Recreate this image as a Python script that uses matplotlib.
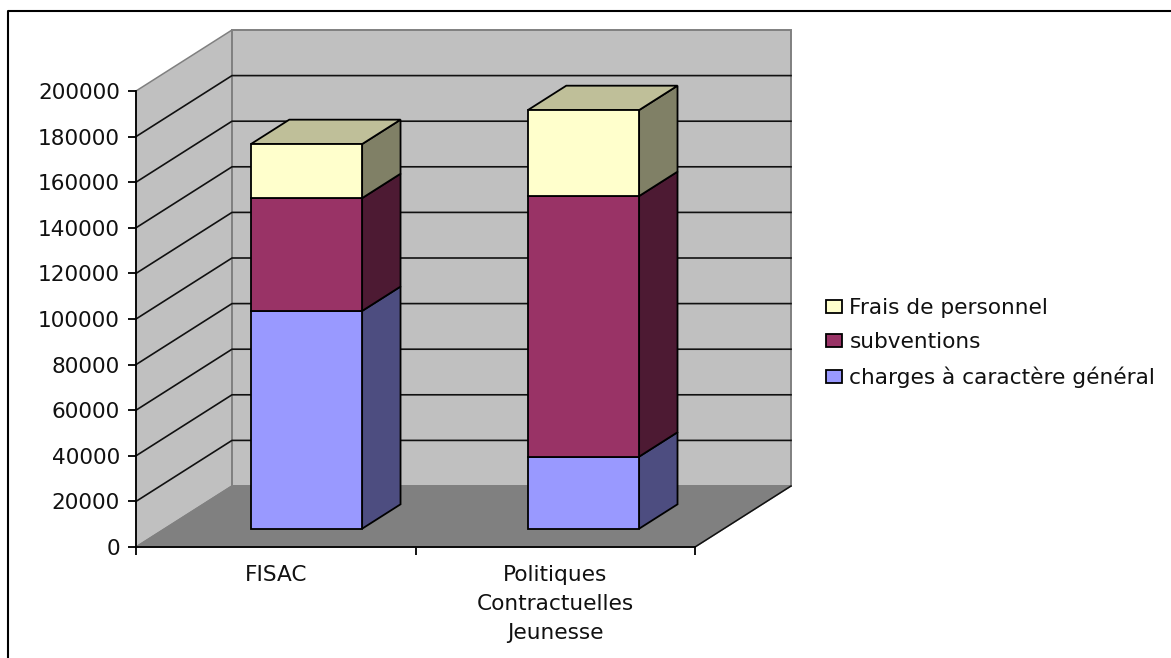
import matplotlib
matplotlib.use("Agg")
import matplotlib.pyplot as plt
from matplotlib.lines import Line2D
from matplotlib.patches import Patch, Polygon

plt.rcParams['font.family'] = ['DejaVu Sans']

categories = ["FISAC", "Politiques\nContractuelles\nJeunesse"]
series_names = ["charges à caractère général", "subventions", "Frais de personnel"]
charges = [95500, 31600]
subventions = [49500, 114300]
frais = [23700, 37700]
y_ticks = list(range(0, 200001, 20000))

front_colors = ["#9999FF", "#993366", "#FFFFCC"]
side_colors = ["#4D4D80", "#4D1A33", "#808066"]
top_colors = ["#BFBF99"]

W, H = 1171, 658
FS = 15.6
fig = plt.figure(figsize=(W / 100, H / 100), dpi=100, facecolor="white")
# front plane of the fake 3d box, in pixels of the screenshot
left, right, bottom, top = 136, 695, 547, 91
ax = fig.add_axes([left / W, 1 - bottom / H, (right - left) / W, (bottom - top) / H])
ax.set_xlim(0, 2)
ax.set_ylim(0, 200000)
ax.patch.set_visible(False)

# how far one unit of depth moves things, in data units
DX = 96 / ((right - left) / 2)
DY = 61 / ((bottom - top) / 200000)


def proj(x, v, d):
    return (x + d * DX, v + d * DY)


def face(points, color, z, edge="black", lw=1.3):
    ax.add_patch(Polygon(points, closed=True, facecolor=color, edgecolor=edge,
                         linewidth=lw, zorder=z, clip_on=False, joinstyle="miter"))


# walls and floor
face([proj(0, 0, 0), proj(0, 0, 1), proj(0, 200000, 1), proj(0, 200000, 0)], "#C0C0C0", 1, "#808080", 1.1)
face([proj(0, 0, 1), proj(2, 0, 1), proj(2, 200000, 1), proj(0, 200000, 1)], "#C0C0C0", 1, "#808080", 1.4)
face([proj(0, 0, 0), proj(2, 0, 0), proj(2, 0, 1), proj(0, 0, 1)], "#808080", 2, "#808080", 1.1)

# gridlines go along the left wall then across the back
for v in y_ticks[1:-1]:
    xs, ys = zip(proj(0, v, 0), proj(0, v, 1), proj(2, v, 1))
    ax.plot(xs, ys, color="#111111", lw=1.2, zorder=3, clip_on=False)

# edge of the floor on the right
xs, ys = zip(proj(2, 0, 0), proj(2, 0, 1))
ax.plot(xs, ys, color="#111111", lw=1.1, zorder=3, clip_on=False)

# stacked bars
bar_w = 0.398
bar_centers = [0.507, 1.498]
d0, d1 = 0.3, 0.7
for i in range(len(categories)):
    x0 = bar_centers[i] - bar_w / 2
    x1 = x0 + bar_w
    base = 0
    for vals, fc, sc in zip([charges, subventions, frais], front_colors, side_colors):
        tip = base + vals[i]
        face([proj(x1, base, d0), proj(x1, base, d1), proj(x1, tip, d1), proj(x1, tip, d0)], sc, 4)
        face([proj(x0, base, d0), proj(x1, base, d0), proj(x1, tip, d0), proj(x0, tip, d0)], fc, 5)
        base = tip
    face([proj(x0, base, d0), proj(x1, base, d0), proj(x1, base, d1), proj(x0, base, d1)], top_colors[0], 4)

# axes
for s in ["top", "right"]:
    ax.spines[s].set_visible(False)
for s in ["left", "bottom"]:
    ax.spines[s].set_linewidth(1.3)
    ax.spines[s].set_zorder(6)
ax.set_yticks(y_ticks)
ax.tick_params(axis="y", length=6, width=1.3, pad=5.5, labelsize=FS, labelcolor="#111111")
ax.set_xticks([0, 1, 2])
ax.set_xticklabels(["", "", ""])
ax.tick_params(axis="x", which="major", length=6, width=1.3)
ax.set_xticks([0.5, 1.5], minor=True)
ax.set_xticklabels(categories, minor=True, fontsize=FS, color="#111111", linespacing=1.55)
ax.tick_params(axis="x", which="minor", length=0, pad=13)

# legend
handles = [Patch(facecolor=c, edgecolor="black", linewidth=1.3) for c in front_colors[::-1]]
fig.legend(handles, series_names[::-1], loc="center left", bbox_to_anchor=(819 / W, 1 - 343 / H),
           frameon=False, fontsize=FS, labelcolor="#111111", handlelength=0.74, handleheight=0.58,
           handletextpad=0.36, labelspacing=0.66, borderpad=0, borderaxespad=0.3)

# screenshot frame
fig.add_artist(Line2D([8 / W, 8 / W, 1], [0, 1 - 11 / H, 1 - 11 / H], color="black", lw=1.5))

fig.savefig("out.png", dpi=100, facecolor="white")
